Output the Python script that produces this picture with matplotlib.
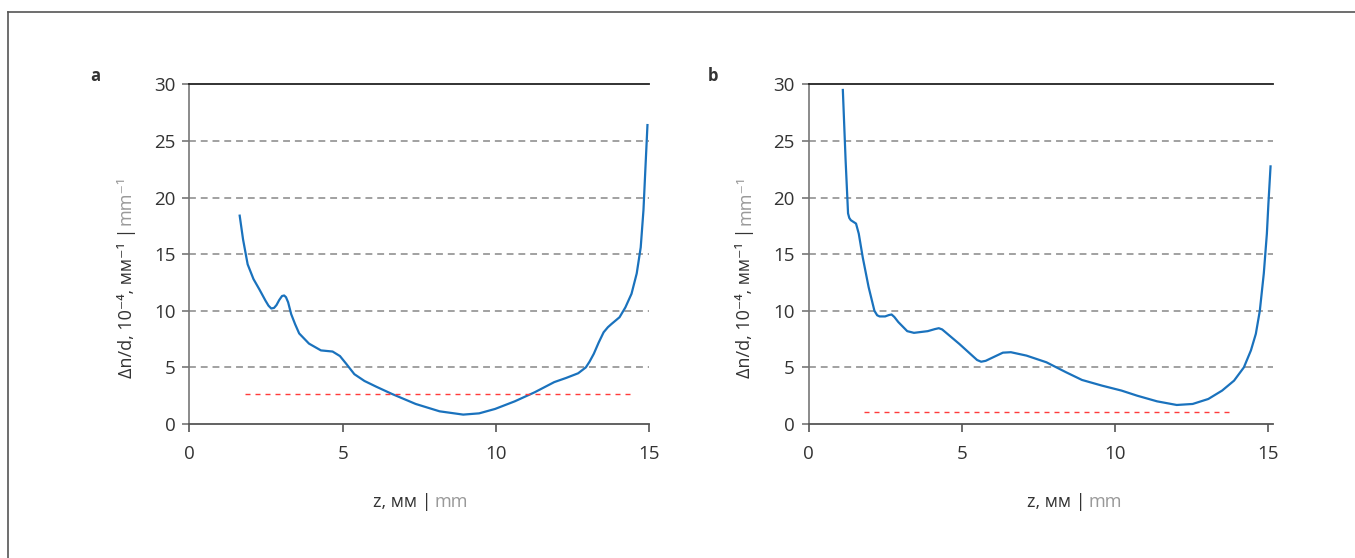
import matplotlib
matplotlib.use("Agg")
import matplotlib.pyplot as plt
from matplotlib.lines import Line2D

plt.rcParams['font.family'] = ['Open Sans', 'DejaVu Sans']

# panel a: curve
za = [1.64, 1.75, 1.90, 2.09, 2.28, 2.48, 2.58, 2.67, 2.76, 2.84, 2.93, 3.02,
      3.09, 3.15, 3.22, 3.32, 3.45, 3.58, 3.90,
      4.29, 4.67, 4.91, 5.12, 5.38, 5.71, 6.09, 6.61, 7.38, 8.16, 8.93, 9.45,
      9.97, 10.61, 11.26, 11.90, 12.29, 12.68, 12.93, 13.05, 13.19, 13.35,
      13.51, 13.65, 13.77, 14.03, 14.22, 14.42, 14.59, 14.72, 14.81, 14.87,
      14.94]
va = [18.4, 16.3, 14.1, 12.8, 11.9, 10.9, 10.45, 10.2, 10.25, 10.5, 10.95,
      11.3, 11.35, 11.2, 10.75, 9.7, 8.8, 8.0, 7.1,
      6.5, 6.4, 6.0, 5.3, 4.4, 3.8, 3.3, 2.65, 1.77, 1.12, 0.83, 0.94,
      1.33, 2.0, 2.8, 3.7, 4.07, 4.48, 5.0, 5.5, 6.2, 7.2,
      8.1, 8.55, 8.84, 9.43, 10.3, 11.5, 13.3, 15.6, 18.9, 22.4,
      26.4]

# panel b
zb = [1.12, 1.21, 1.29, 1.33, 1.38, 1.55, 1.64, 1.77, 1.96, 2.15, 2.24, 2.32,
      2.50, 2.62, 2.71, 2.80, 2.93, 3.22, 3.44, 3.89, 4.12, 4.25, 4.36, 4.47,
      4.92, 5.34, 5.50, 5.63, 5.78, 5.95, 6.34, 6.60,
      7.11, 7.76, 8.40, 8.92, 9.57, 10.21, 10.72, 11.37, 12.01, 12.53, 13.04,
      13.49, 13.88, 14.20, 14.43, 14.59, 14.72, 14.85, 14.95, 15.00, 15.07]
vb = [29.5, 23.3, 18.6, 18.2, 18.0, 17.7, 16.8, 14.7, 12.1, 10.0, 9.6, 9.5,
      9.5, 9.62, 9.67, 9.45, 9.0, 8.2, 8.05, 8.2, 8.38, 8.46, 8.35, 8.1,
      7.07, 6.04, 5.65, 5.5, 5.58, 5.8, 6.3, 6.34,
      6.04, 5.45, 4.57, 3.89, 3.39, 2.95, 2.5, 2.0, 1.68, 1.77, 2.21,
      2.95, 3.83, 5.0, 6.5, 7.96, 10.0, 13.3, 16.8, 19.45, 22.75]

# red threshold lines: (y, x start, x end)
thr_a = [2.65, 1.8, 14.4]
thr_b = [1.05, 1.8, 13.75]

yticks = [0, 5, 10, 15, 20, 25, 30]
xticks = [0, 5, 10, 15]

W, H = 1355, 558
fig = plt.figure(figsize=(W / 100, H / 100), dpi=100)

blue = "#1a72bd"
red = "#ff3b3b"
dark = "#333333"
grey = "#999999"


def panel(rect, z, v, thr, xmax):
    ax = fig.add_axes(rect)
    ax.plot(z, v, color=blue, lw=1.6, solid_joinstyle='round')
    ax.plot([thr[1], thr[2]], [thr[0], thr[0]], color=red, lw=1.0,
            dashes=(3.6, 3.6))
    for y in yticks[1:-1]:
        ax.axhline(y, color="#888888", lw=1.1, dashes=(4.5, 3.2), zorder=0)
    ax.set_xlim(0, xmax)
    ax.set_ylim(0, 30)
    ax.set_xticks(xticks)
    ax.set_yticks(yticks)
    ax.spines['right'].set_visible(False)
    ax.spines['top'].set_color("#222222")
    ax.spines['top'].set_linewidth(1.3)
    ax.spines['left'].set_color("#777777")
    ax.spines['bottom'].set_color("#555555")
    ax.spines['left'].set_linewidth(1.2)
    ax.spines['bottom'].set_linewidth(1.3)
    ax.tick_params(axis='y', length=5, width=1.2, color="#777777", pad=5,
                   labelsize=13.5, labelcolor=dark)
    ax.tick_params(axis='x', length=6, width=1.2, color="#555555", pad=9,
                   labelsize=13.5, labelcolor=dark)
    return ax


ax_a = panel([189.4 / W, 1 - 424 / H, (649.3 - 189.4) / W, (424 - 84.3) / H],
             za, va, thr_a, 15)
ax_b = panel([808.5 / W, 1 - 424 / H, (1273 - 808.5) / W, (424 - 84.3) / H],
             zb, vb, thr_b, 15.15)

# panel letters
fig.text(95 / W, 1 - 76 / H, "a", fontsize=12, fontweight='bold', color=dark,
         ha='center', va='center')
fig.text(713 / W, 1 - 76 / H, "b", fontsize=12, fontweight='bold', color=dark,
         ha='center', va='center')

# axis labels, two colours each
for xl, xz in [(126, 373), (745, 1027)]:
    t = fig.text(xl / W, 1 - 378 / H, "Δn/d, 10⁻⁴, мм⁻¹ |", rotation=90,
                 fontsize=13, color=dark, ha='center', va='bottom')
    ax_a.annotate("mm⁻¹", xy=(0.5, 1), xycoords=t, xytext=(0, 2),
                  textcoords='offset points', rotation=90, fontsize=13,
                  color=grey, ha='center', va='bottom', annotation_clip=False)
    s = fig.text(xz / W, 1 - 502 / H, "z, мм |", fontsize=13, color=dark,
                 ha='left', va='center')
    ax_a.annotate("mm", xy=(1, 0.5), xycoords=s, xytext=(2, 0),
                  textcoords='offset points', fontsize=13, color=grey,
                  ha='left', va='center', annotation_clip=False)

# partial frame around the figure (top and left edges)
fig.add_artist(Line2D([8 / W, 1], [1 - 12 / H, 1 - 12 / H],
                      transform=fig.transFigure, color="#555555", lw=1.2))
fig.add_artist(Line2D([8 / W, 8 / W], [0, 1 - 12 / H],
                      transform=fig.transFigure, color="#555555", lw=1.2))

fig.savefig("out.png", dpi=100)
